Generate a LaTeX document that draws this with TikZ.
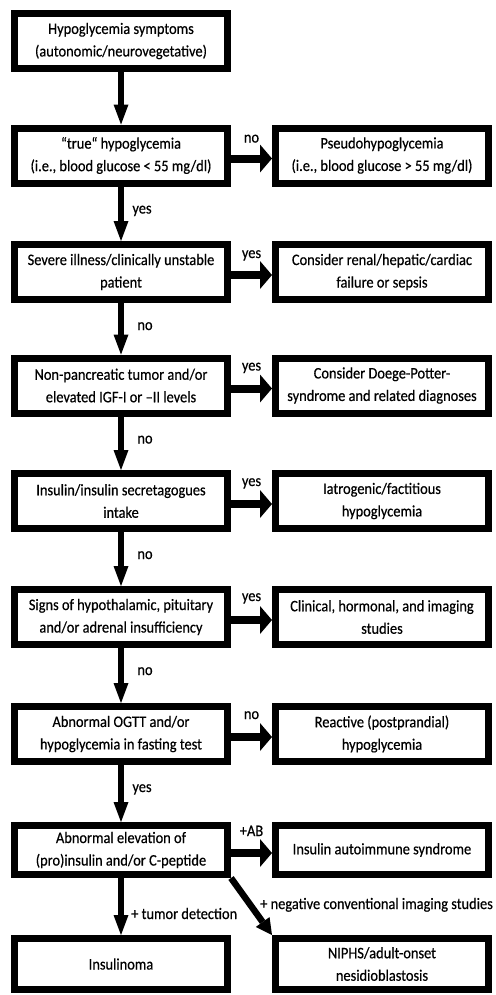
\documentclass[tikz,border=0pt]{standalone}
\usepackage{fontspec}
\setmainfont{Carlito}[FakeStretch=0.9,FakeBold=0.5]
\usetikzlibrary{arrows.meta,calc}
\begin{document}
\begin{tikzpicture}[x=1bp,y=-1bp,
  box/.style={draw, line width=7bp, outer sep=3.5bp, minimum width=213bp, minimum height=55bp,
    align=center, inner sep=0pt, font=\fontsize{16bp}{22.5bp}\selectfont},
  lbl/.style={font=\fontsize{16bp}{18bp}\selectfont, inner sep=0pt},
  varr/.style={line width=6bp, -{Triangle[length=20bp,width=15bp,line width=0pt]}},
  harr/.style={line width=8bp, -{Triangle[length=12bp,width=28bp,line width=0pt]}},
  darr/.style={line width=6.5bp, -{Triangle[length=16bp,width=17bp,line width=0pt]}},
]
\useasboundingbox (0,0) rectangle (496,995);

\node[box] (L1) at (121,41) {Hypoglycemia symptoms\\(autonomic/neurovegetative)};
\node[box] (L2) at (121,155.5) {“true“ hypoglycemia\\(i.e., blood glucose < 55 mg/dl)};
\node[box] (R2) at (382,155.5) {Pseudohypoglycemia\\(i.e., blood glucose > 55 mg/dl)};
\node[box] (L3) at (121,272) {Severe illness/clinically unstable\\patient};
\node[box] (R3) at (382,272) {Consider renal/hepatic/cardiac\\failure or sepsis};
\node[box] (L4) at (121,385.5) {Non-pancreatic tumor and/or\\elevated IGF-I or –II levels};
\node[box] (R4) at (382,385.5) {Consider Doege-Potter-\\syndrome and related diagnoses};
\node[box] (L5) at (121,501) {Insulin/insulin secretagogues\\intake};
\node[box] (R5) at (382,501) {Iatrogenic/factitious\\hypoglycemia};
\node[box] (L6) at (121,617) {Signs of hypothalamic, pituitary\\and/or adrenal insufficiency};
\node[box] (R6) at (382,617) {Clinical, hormonal, and imaging\\studies};
\node[box] (L7) at (121,734) {Abnormal OGTT and/or\\hypoglycemia in fasting test};
\node[box] (R7) at (382,734) {Reactive (postprandial)\\hypoglycemia};
\node[box, minimum height=49bp] (L8) at (121,850) {Abnormal elevation of\\(pro)insulin and/or C-peptide};
\node[box, minimum height=49bp] (R8) at (382,850) {Insulin autoimmune syndrome};
\node[box, minimum height=51bp] (L9) at (121,964) {Insulinoma};
\node[box, minimum height=51bp] (R9) at (382,964) {NIPHS/adult-onset\\nesidioblastosis};

% vertical arrows
\draw[varr] (L1.south) -- (L2.north);
\draw[varr] (L2.south) -- (L3.north);
\draw[varr] (L3.south) -- (L4.north);
\draw[varr] (L4.south) -- (L5.north);
\draw[varr] (L5.south) -- (L6.north);
\draw[varr] (L6.south) -- (L7.north);
\draw[varr] (L7.south) -- (L8.north);
\draw[varr] (L8.south) -- (L9.north);
\draw[darr] (L8.south east) -- (R9.north west);

% horizontal arrows
\foreach \i in {2,...,8}{
  \draw[harr] ([yshift=-3bp]L\i.east) -- ([yshift=-3bp]R\i.west);
}

% horizontal labels
\node[lbl, anchor=base] (h2) at ($(L2.north east)!.5!(R2.north west)+(0,18)$) {no};
\node[lbl, anchor=base] (h3) at ($(L3.north east)!.5!(R3.north west)+(0,17)$) {yes};
\node[lbl, anchor=base] (h4) at ($(L4.north east)!.5!(R4.north west)+(0,16)$) {yes};
\node[lbl, anchor=base] (h5) at ($(L5.north east)!.5!(R5.north west)+(0,16)$) {yes};
\node[lbl, anchor=base] (h6) at ($(L6.north east)!.5!(R6.north west)+(0,15)$) {yes};
\node[lbl, anchor=base] (h7) at ($(L7.north east)!.5!(R7.north west)+(0,16)$) {no};
\node[lbl, anchor=base] (h8) at ($(L8.north east)!.5!(R8.north west)+(0,14)$) {+AB};

% vertical labels
\node[lbl, anchor=base] (v2) at ($(L2.south)+(21,27)$) {yes};
\node[lbl, anchor=base] (v3) at ($(L3.south)+(24,27)$) {no};
\node[lbl, anchor=base] (v4) at ($(L4.south)+(24,27)$) {no};
\node[lbl, anchor=base] (v5) at ($(L5.south)+(24,27)$) {no};
\node[lbl, anchor=base] (v6) at ($(L6.south)+(24,27)$) {no};
\node[lbl, anchor=base] (v7) at ($(L7.south)+(21,27)$) {yes};
\node[lbl, anchor=base west] (v8) at ($(L8.south)+(10,41)$) {+ tumor detection};
\node[lbl, anchor=base west] (d8) at (260,909) {+ negative conventional imaging studies};
\end{tikzpicture}
\end{document}
